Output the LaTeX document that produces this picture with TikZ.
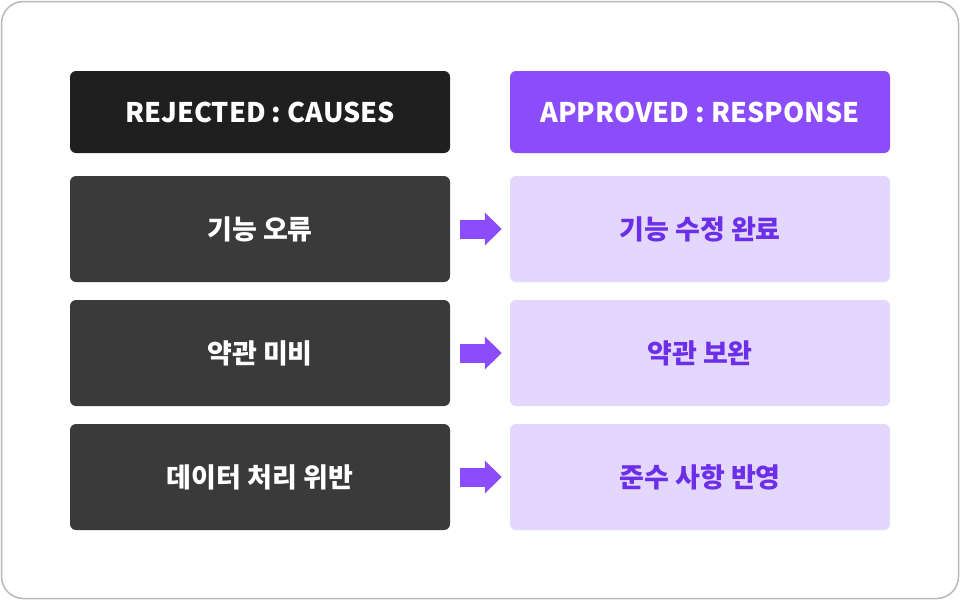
\documentclass[tikz,border=0pt]{standalone}
\usepackage{fontspec}
\setmainfont{Noto Sans CJK KR}
\usetikzlibrary{arrows.meta}
\definecolor{headdark}{HTML}{1F1F1F}
\definecolor{rowdark}{HTML}{3A3A3A}
\definecolor{headpurple}{HTML}{8B4DFB}
\definecolor{rowpurple}{HTML}{E3D7FD}
\definecolor{textpurple}{HTML}{6C2EE8}
\begin{document}
\begin{tikzpicture}[x=1pt,y=-1pt,
  box/.style={rounded corners=6pt,minimum width=380pt,inner sep=0pt,font=\fontsize{27}{31}\selectfont\bfseries},
  headbox/.style={box,minimum height=82pt,text=white},
  causebox/.style={box,fill=rowdark,minimum height=106pt,text=white},
  fixbox/.style={box,fill=rowpurple,minimum height=106pt,text=textpurple},
  blockarrow/.style={draw=headpurple,line width=19pt,shorten <=10pt,shorten >=8pt,
    -{Triangle[length=17pt,width=32pt,fill=headpurple]}}]
\useasboundingbox (0,0) rectangle (960,600);
\draw[line width=1.5pt,gray!55,rounded corners=22pt](1.5,1.5) rectangle (958.5,598.5);

 \node[headbox,fill=headdark] at (260,112) (h1) {REJECTED : CAUSES};
 \node[headbox,fill=headpurple] at (700,112) (h2) {APPROVED : RESPONSE};

 \node[causebox] at (260,229) (c1) {기능 오류};
 \node[causebox] at (260,353) (c2) {약관 미비};
 \node[causebox] at (260,477) (c3) {데이터 처리 위반};

 \node[fixbox] at (700,229) (r1) {기능 수정 완료};
 \node[fixbox] at (700,353) (r2) {약관 보완};
 \node[fixbox] at (700,477) (r3) {준수 사항 반영};

\draw[blockarrow](c1)--(r1);
\draw[blockarrow](c2)--(r2);
\draw[blockarrow](c3)--(r3);
\end{tikzpicture}
\end{document}
